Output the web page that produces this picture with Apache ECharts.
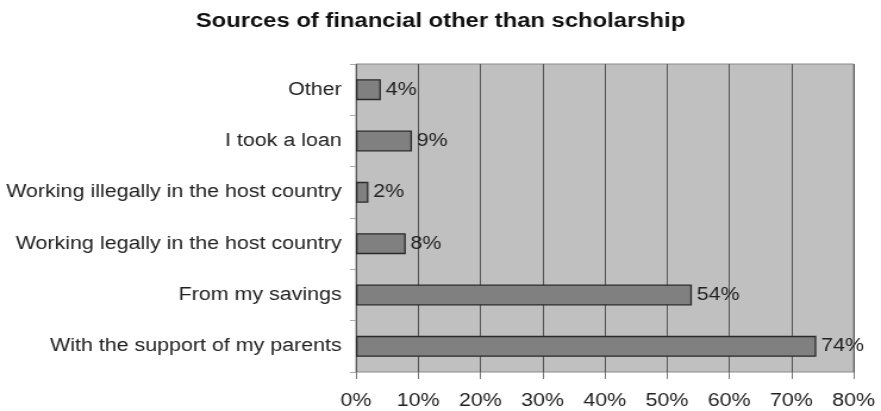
<!DOCTYPE html>
<html>
<head>
<meta charset="utf-8">
<script src="https://cdn.jsdelivr.net/npm/echarts@6/dist/echarts.min.js"></script>
<style>
  html, body { margin: 0; padding: 0; background: #ffffff; overflow: hidden; }
  #wrap { width: 881px; height: 411px; overflow: hidden; }
  /* the chart is drawn narrower and widened horizontally, giving the broad lettering */
  #chart { width: 740px; height: 411px; transform: scaleX(1.1905); transform-origin: 0 0; }
</style>
</head>
<body>
<div id="wrap"><div id="chart"></div></div>
<script>
// Funding sources, listed bottom to top as they appear on the category axis
const categories = [
  'With the support of my parents',
  'From my savings',
  'Working legally in the host country',
  'Working illegally in the host country',
  'I took a loan',
  'Other'
];
const shares = [74, 54, 8, 2, 9, 4];
const axisMax = 80;
const axisStep = 10;

const FONT = 'Liberation Sans';
const chart = echarts.init(document.getElementById('chart'));
chart.setOption({
  animation: false,
  title: {
    text: 'Sources of financial other than scholarship',
    left: 365,
    textAlign: 'center',
    top: 6,
    textStyle: { fontFamily: FONT, fontWeight: 'bold', fontSize: 20, color: '#111' }
  },
  grid: {
    left: 299, right: 23, top: 64, bottom: 39,
    show: true, backgroundColor: '#c0c0c0', borderColor: '#8a8a8a', borderWidth: 1
  },
  xAxis: {
    type: 'value',
    min: 0, max: axisMax, interval: axisStep,
    axisLine: { show: false },
    axisTick: { show: true, length: 7, inside: false, lineStyle: { color: '#777' } },
    splitLine: { show: true, lineStyle: { color: '#555', width: 1 } },
    axisLabel: {
      formatter: v => v + '%',
      margin: 20,
      fontFamily: FONT, fontSize: 18, color: '#222'
    }
  },
  yAxis: {
    type: 'category',
    data: categories,
    axisLine: { show: false },
    axisTick: { show: true, length: 5, lineStyle: { color: '#aaa' } },
    axisLabel: { margin: 12, fontFamily: FONT, fontSize: 18, color: '#222' }
  },
  series: [{
    type: 'bar',
    data: shares,
    barWidth: 21,
    itemStyle: { color: '#808080', borderColor: '#2a2a2a', borderWidth: 1.3 },
    label: {
      show: true, position: 'right', distance: 4,
      formatter: p => p.value + '%',
      fontFamily: FONT, fontSize: 18, color: '#222'
    }
  }]
});
</script>
</body>
</html>
